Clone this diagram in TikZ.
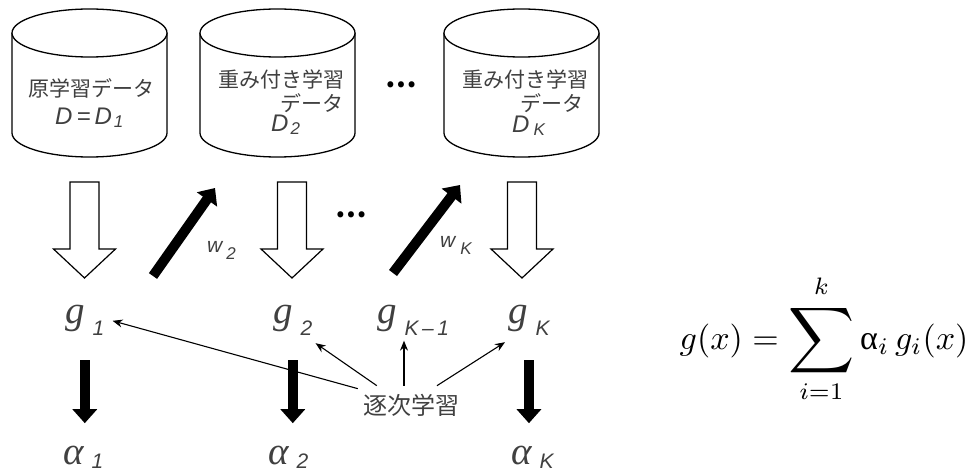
\documentclass[tikz,border=0pt]{standalone}
\usepackage{fontspec}
\usepackage{amsmath}
\usepackage{graphicx}
\setmainfont{Liberation Serif}
\newfontfamily\jpfont{Noto Sans CJK JP}
\newfontfamily\symsans{Liberation Sans}
\newfontfamily\symserif{Liberation Serif}
\usetikzlibrary{arrows.meta,positioning,calc}
\definecolor{txtgray}{RGB}{64,64,64}

% lowered index written apart from its letter (g 1, D K, ...)
\newcommand{\idxsize}{17}
\newcommand{\lowidx}[3][-5pt]{\hspace{#2}\raisebox{#1}{\fontsize{\idxsize}{\idxsize}\selectfont\symsans\itshape #3}}
\newcommand{\bigsum}{\mathop{\vcenter{\hbox{\scalebox{1.35}{$\displaystyle\sum$}}}}\limits}

\begin{document}
\begin{tikzpicture}[x=1pt,y=1pt,
  drum/.style={draw=black, line width=1.3pt, fill=white},
  hollow/.style={draw=black, line width=1.2pt, fill=white, line join=miter},
  boldarrow/.style={line width=10pt, -{Triangle[length=14pt,width=24pt]}},
  thinarrow/.style={line width=1.1pt, -{Stealth[length=10pt,width=8pt]}},
  jplabel/.style={font=\jpfont\fontsize{21}{26}\selectfont, text=txtgray, inner sep=0pt},
  dlabel/.style={font=\symsans\itshape\fontsize{24}{28}\selectfont, text=txtgray, inner sep=0pt, anchor=base west},
  glabel/.style={font=\symserif\itshape\fontsize{39}{44}\selectfont\def\idxsize{21}, text=txtgray, inner sep=0pt, anchor=base west},
  dots/.style={font=\jpfont\bfseries\fontsize{28}{28}\selectfont, inner sep=0pt}]

\useasboundingbox (0,0) rectangle (970,472);

% data sets as drums
\foreach \cx in {89.5,277.5,521.5} {
  \draw[drum] (\cx-77.5,439) -- (\cx-77.5,339) arc[start angle=180, end angle=360, x radius=77.5, y radius=24] -- (\cx+77.5,439);
  \draw[drum] (\cx,439) ellipse[x radius=77.5, y radius=24];
}
\node[jplabel] (t1) at (91.5,384) {原学習データ};
\node[dlabel] (d1) at (55,347) {D\,=\,D\lowidx[-3pt]{2pt}{1}};
\node[jplabel] (t2) at (281,392) {重み付き学習};
\node[jplabel, anchor=east] (t2b) at (344,369) {データ};
\node[dlabel] (d2) at (271,340) {D\lowidx[-3pt]{2pt}{2}};
\node[jplabel] (t3) at (525,392) {重み付き学習};
\node[jplabel, anchor=east] (t3b) at (584,369) {データ};
\node[dlabel] (dk) at (512,339) {D\lowidx[-3pt]{4pt}{K}};
\node[dots] (dtop) at (401,387) {…};

% learning from each data set
\foreach \cx in {84.5,292,522}
  \draw[hollow] (\cx-14.5,290) -- (\cx-14.5,223) -- (\cx-31,223) -- (\cx,194)
    -- (\cx+31,223) -- (\cx+14.5,223) -- (\cx+14.5,290) -- cycle;

% weights passed on to the next data set
\coordinate (w2from) at (153,196);
\coordinate (w2to) at (215,284);
\coordinate (wkfrom) at (393,199);
\coordinate (wkto) at (460,287);
\draw[boldarrow] (w2from) -- (w2to);
\draw[boldarrow] (wkfrom) -- (wkto);
\node[dlabel, font=\symsans\itshape\fontsize{21}{24}\selectfont] (w2) at (207,219) {w\lowidx[-7pt]{4pt}{2}};
\node[dlabel, font=\symsans\itshape\fontsize{21}{24}\selectfont] (wk) at (440,224) {w\lowidx[-7pt]{5pt}{K}};
\node[dots] (dmid) at (351,257) {…};

% weak learners and their weights
\node[glabel] (g1) at (65,149) {g\lowidx[-12pt]{8pt}{1}};
\node[glabel] (g2) at (273,149) {g\lowidx[-12pt]{8pt}{2}};
\node[glabel] (gk1) at (377,149) {g\lowidx[-12pt]{8pt}{K\,–\,1}};
\node[glabel] (gk) at (508,149) {g\lowidx[-12pt]{8pt}{K}};
\node[glabel] (a1) at (63,8) {α\lowidx[-4pt]{8pt}{1}};
\node[glabel] (a2) at (268,8) {α\lowidx[-4pt]{8pt}{2}};
\node[glabel] (ak) at (511,8) {α\lowidx[-4pt]{8pt}{K}};

\draw[boldarrow] ([yshift=-25pt]g1.south) -- ++(0,-63);
\draw[boldarrow] ([yshift=-25pt]g2.south) -- ++(0,-63);
\draw[boldarrow] ([yshift=-25pt]gk.south) -- ++(0,-63);

% sequential training
\node[jplabel, font=\jpfont\fontsize{24}{28}\selectfont] (seq) at (411,67) {逐次学習};
\draw[thinarrow] ([xshift=-5pt,yshift=5pt]seq.north west) -- ([xshift=8pt,yshift=-1pt]g1.east);
\draw[thinarrow] ([xshift=14pt,yshift=8pt]seq.north west) -- ([xshift=3pt,yshift=-8pt]g2.south east);
\draw[thinarrow] ([xshift=-7pt,yshift=8pt]seq.north) -- ++(0,45);
\draw[thinarrow] ([xshift=26pt,yshift=8pt]seq.north) -- ([xshift=-3pt,yshift=-7pt]gk.south west);

% combined classifier
\node[scale=3.4] (gx) at (824,134) {$\displaystyle g(x)=\bigsum_{i=1}^{k\mathstrut}\text{α}_i\, g_i(x)$};
\end{tikzpicture}
\end{document}
